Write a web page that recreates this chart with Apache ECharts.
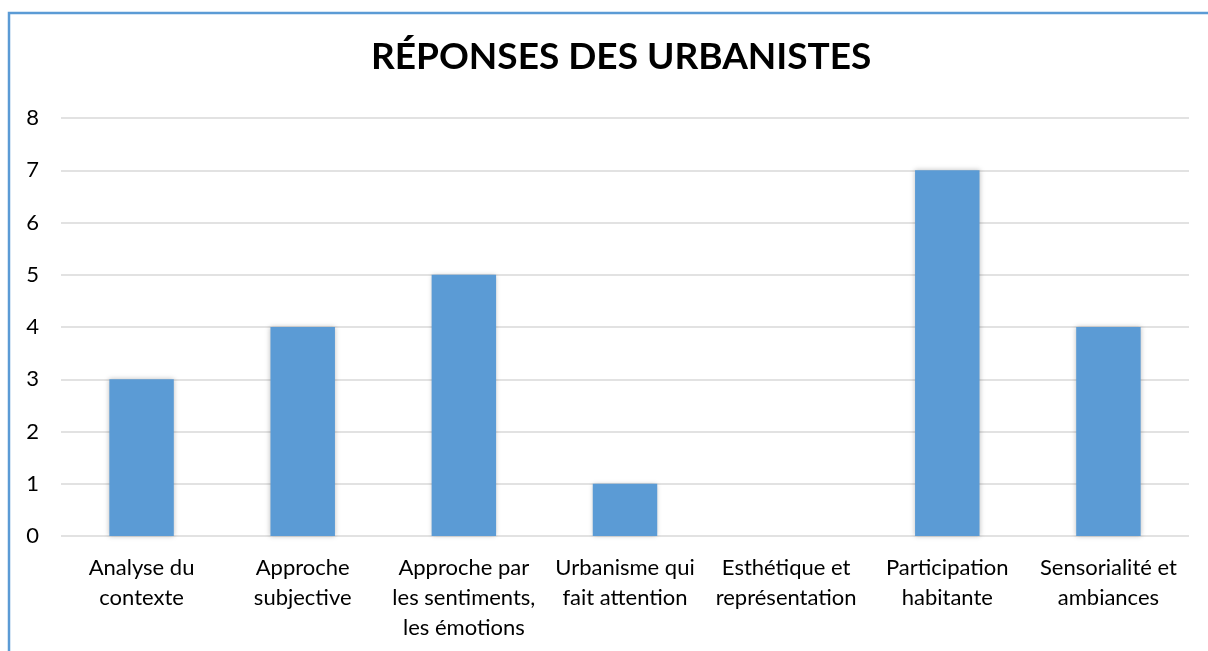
<!DOCTYPE html>
<html><head><meta charset="utf-8">
<script src="https://cdn.jsdelivr.net/npm/echarts@6/dist/echarts.min.js"></script>
<style>html,body{margin:0;padding:0;background:#fff}#c{width:1208px;height:651px}</style>
</head><body><div id="c"></div>
<script>
const categories = ["Analyse du\ncontexte","Approche\nsubjective","Approche par\nles sentiments,\nles émotions","Urbanisme qui\nfait attention","Esthétique et\nreprésentation","Participation\nhabitante","Sensorialité et\nambiances"];
const values = [3,4,5,1,0,7,4];
const yTicks = [0,1,2,3,4,5,6,7,8];
const title = "RÉPONSES DES URBANISTES";
const FONT = "Lato, 'Open Sans', sans-serif";
const chart = echarts.init(document.getElementById('c'), null, {renderer:'canvas'});
chart.setOption({
  animation:false,
  backgroundColor:'#fff',
  title:{text:title,left:366,top:34,textStyle:{fontFamily:FONT,fontSize:37,fontWeight:'bold',color:'#000'}},
  graphic:[{type:'rect',shape:{x:9,y:13,width:1300,height:700},style:{fill:'none',stroke:'#5B9BD5',lineWidth:2.5},z:-1}],
  grid:{left:61,right:19,top:118,bottom:115},
  xAxis:{type:'category',data:categories,axisLine:{show:false},axisTick:{show:false},
    axisLabel:{fontFamily:FONT,fontSize:22,color:'#000',lineHeight:30,margin:17,interval:0}},
  yAxis:{type:'value',min:0,max:8,interval:1,
    axisLabel:{fontFamily:FONT,fontSize:22,color:'#000',margin:22,formatter:v=>yTicks.includes(v)?String(v):''},
    splitLine:{lineStyle:{color:'#d9d9d9',width:1.5}},axisLine:{show:false},axisTick:{show:false}},
  series:[{type:'bar',data:values,barWidth:'40%',
    itemStyle:{color:'#5B9BD5',shadowBlur:5,shadowColor:'rgba(0,0,0,0.25)'}}]
});
</script></body></html>
